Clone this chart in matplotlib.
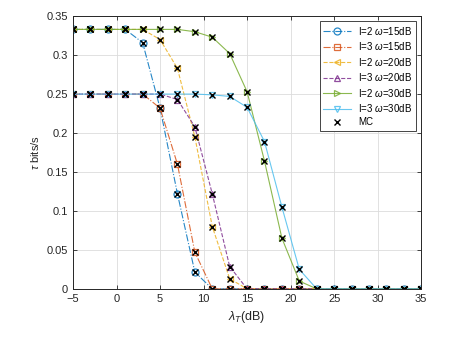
import matplotlib.pyplot as plt
import numpy as np

plt.rcParams['font.family'] = ['Liberation Sans', 'DejaVu Sans']
plt.rcParams['mathtext.fontset'] = 'custom'
plt.rcParams['mathtext.it'] = 'Liberation Sans:italic'
plt.rcParams['mathtext.rm'] = 'Liberation Sans'

# x axis: lambda_T in dB
lam_db = np.arange(-5, 36, 2)

# throughput tau (bits/s) for each setting
tau_i2_w15 = [0.333, 0.333, 0.333, 0.333, 0.316, 0.232, 0.122, 0.0215, 0, 0, 0,
              0, 0, 0, 0, 0, 0, 0, 0, 0, 0]
tau_i3_w15 = [0.25, 0.25, 0.25, 0.25, 0.25, 0.232, 0.160, 0.047, 0, 0, 0,
              0, 0, 0, 0, 0, 0, 0, 0, 0, 0]
tau_i2_w20 = [0.333, 0.333, 0.333, 0.333, 0.333, 0.320, 0.283, 0.195, 0.080, 0.013, 0,
              0, 0, 0, 0, 0, 0, 0, 0, 0, 0]
tau_i3_w20 = [0.25, 0.25, 0.25, 0.25, 0.25, 0.25, 0.243, 0.208, 0.122, 0.0287, 0,
              0, 0, 0, 0, 0, 0, 0, 0, 0, 0]
tau_i2_w30 = [0.333, 0.333, 0.333, 0.333, 0.333, 0.333, 0.333, 0.330, 0.323, 0.302, 0.253,
              0.164, 0.065, 0.010, 0, 0, 0, 0, 0, 0, 0]
tau_i3_w30 = [0.25, 0.25, 0.25, 0.25, 0.25, 0.25, 0.25, 0.25, 0.249, 0.247, 0.233,
              0.189, 0.105, 0.025, 0, 0, 0, 0, 0, 0, 0]

labels = ['I=2 $\\omega$=15dB', 'I=3 $\\omega$=15dB', 'I=2 $\\omega$=20dB',
          'I=3 $\\omega$=20dB', 'I=2 $\\omega$=30dB', 'I=3 $\\omega$=30dB']
series = [tau_i2_w15, tau_i3_w15, tau_i2_w20, tau_i3_w20, tau_i2_w30, tau_i3_w30]
colors = ['#0072BD', '#D95319', '#EDB120', '#7E2F8E', '#77AC30', '#4DBEEE']
markers = ['o', 's', '<', '^', '>', 'v']
styles = ['-.', '-.', '--', '--', '-', '-']

fig = plt.figure(figsize=(4.77, 3.51), dpi=100)
ax = fig.add_axes([0.153, 0.177, 0.73, 0.777])

for y, lab, c, m, ls in zip(series, labels, colors, markers, styles):
    ax.plot(lam_db, y, linestyle=ls, marker=m, color=c, linewidth=0.8,
            markersize=5, markerfacecolor='none', markeredgewidth=0.9,
            alpha=0.85, label=lab)

# Monte Carlo points on top of every curve
for i, y in enumerate(series):
    ax.plot(lam_db, y, linestyle='none', marker='x', color='black',
            markersize=4, markeredgewidth=1.0,
            label='MC' if i == 0 else None)

ax.set_xlim(-5, 35)
ax.set_ylim(0, 0.35)
ax.set_xticks(np.arange(-5, 36, 5))
ax.set_yticks(np.arange(0, 0.351, 0.05))
ax.set_yticklabels(['0', '0.05', '0.1', '0.15', '0.2', '0.25', '0.3', '0.35'])
ax.tick_params(axis='both', labelsize=8, direction='in', length=3, width=0.6,
               colors='#262626', top=True, right=True)
ax.grid(True, color='#dcdcdc', linewidth=0.6)
ax.set_axisbelow(True)
for sp in ax.spines.values():
    sp.set_linewidth(0.7)
    sp.set_color('#262626')

ax.set_xlabel('$\\lambda_T$(dB)', fontsize=9, color='#262626')
ax.set_ylabel('$\\tau$ bits/s', fontsize=8, color='#262626')

leg = ax.legend(loc='upper right', fontsize=7, frameon=True, fancybox=False,
                framealpha=1, borderpad=0.4, labelspacing=0.35, handlelength=2.8,
                borderaxespad=0.5)
leg.get_frame().set_edgecolor('#262626')
leg.get_frame().set_linewidth(0.6)

plt.savefig('out.png', dpi=100, facecolor='white')
